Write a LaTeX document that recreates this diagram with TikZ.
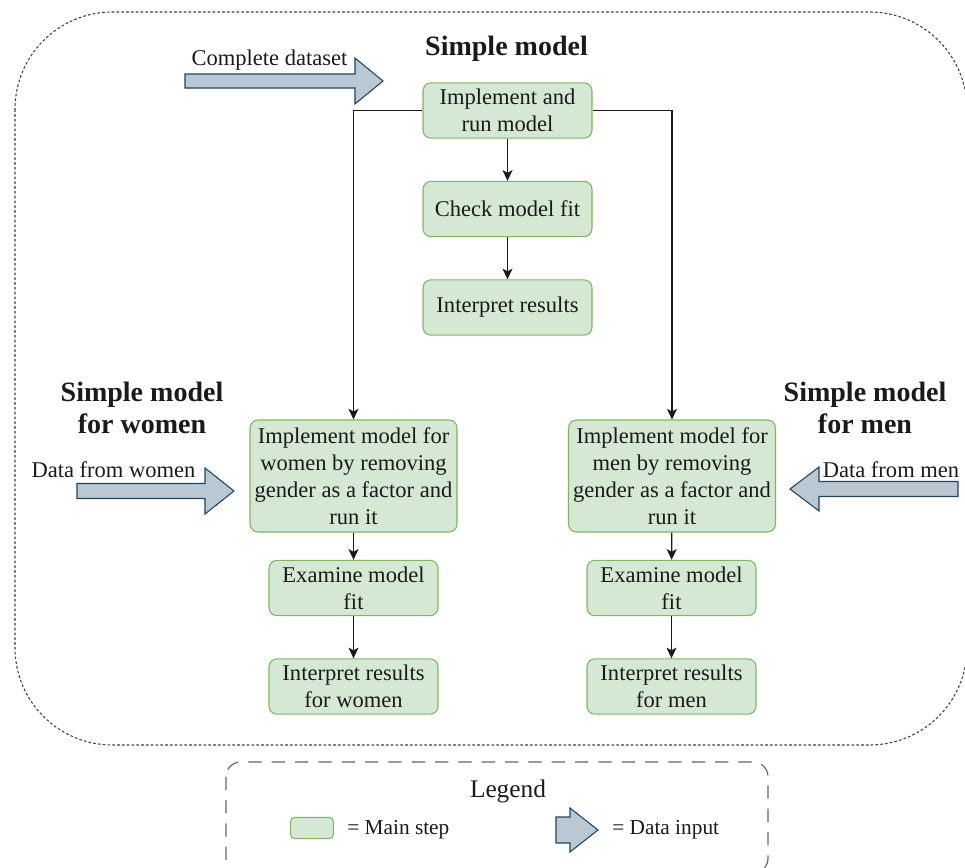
\documentclass[tikz,border=0pt]{standalone}
\usepackage{fontspec}
\setmainfont{Liberation Serif}
\usetikzlibrary{arrows.meta}
\definecolor{stepfill}{HTML}{D5E8D4}
\definecolor{stepline}{HTML}{82B366}
\definecolor{datafill}{HTML}{BAC8D3}
\definecolor{dataline}{HTML}{23445D}
\definecolor{inktext}{HTML}{1A1A1A}

% block arrow: tail x, head base x, tip x, centre y, shaft half width, head half width
\newcommand\blockarrow[6]{%
  \draw[dataarrow] (#1,#4-#5) -- (#2,#4-#5) -- (#2,#4-#6) -- (#3,#4)
    -- (#2,#4+#6) -- (#2,#4+#5) -- (#1,#4+#5) -- cycle;}

\begin{document}
\begin{tikzpicture}[x=0.75pt,y=-0.75pt,
  stepbox/.style={draw=stepline, fill=stepfill, line width=0.8pt,
    rounded corners=6pt, align=center, inner sep=1pt, text=inktext,
    font=\fontsize{16.9}{20.2}\selectfont},
  smallstep/.style={stepbox, minimum width=126.75pt, minimum height=41.5pt},
  bigstep/.style={stepbox, minimum width=155.25pt, minimum height=84pt},
  conn/.style={-{Stealth[length=8pt,width=7.5pt,inset=2pt]}, line width=0.9pt, draw=inktext},
  dataarrow/.style={draw=dataline, fill=datafill, line width=0.8pt, line join=miter},
  headtxt/.style={font=\bfseries\fontsize{21}{24}\selectfont, align=center, text=inktext},
  plaintxt/.style={font=\fontsize{16.9}{20.2}\selectfont, text=inktext, inner sep=0pt},
  legtxt/.style={font=\fontsize{16}{19}\selectfont, text=inktext, inner sep=0pt},
  ]
\useasboundingbox (0,0) rectangle (965,868);

% outer container
\draw[dash pattern=on 2pt off 1.6pt, draw=black!75, line width=0.8pt,
  rounded corners=73pt] (15,12) rectangle (967,745);

% headings
\node[headtxt] (hsimple) at (506.5,49) {Simple model};
\node[headtxt] (hwomen) at (142,408) {Simple model\\for women};
\node[headtxt] (hmen) at (865,408) {Simple model\\for men};

% simple model column
\node[smallstep] (b1) at (507.5,110.5) {Implement and\\run model};
\node[smallstep] (b2) at (507.5,209) {Check model fit};
\node[smallstep] (b3) at (507.5,307.5) {Interpret results};

% women column
\node[bigstep] (w1) at (353.5,476) {Implement model for\\women by removing\\gender as a factor and\\run it};
\node[smallstep] (w2) at (353.5,588) {Examine model\\fit};
\node[smallstep] (w3) at (353.5,686.5) {Interpret results\\for women};

% men column
\node[bigstep] (m1) at (672,476) {Implement model for\\men by removing\\gender as a factor and\\run it};
\node[smallstep] (m2) at (671.5,588) {Examine model\\fit};
\node[smallstep] (m3) at (671.5,686.5) {Interpret results\\for men};

% connectors
\draw[conn] (b1) -- (b2);
\draw[conn] (b2) -- (b3);
\draw[conn] (b1.west) -| (w1.north);
\draw[conn] (b1.east) -| (m1.north);
\draw[conn] (w1) -- (w2);
\draw[conn] (w2) -- (w3);
\draw[conn] (m1) -- (m2);
\draw[conn] (m2) -- (m3);

% data inputs
\blockarrow{185}{355}{383}{81}{7}{23}
\node[plaintxt, anchor=base] (tcomplete) at (269.5,65) {Complete dataset};
\blockarrow{77}{205}{234}{491}{7.5}{23}
\node[plaintxt, anchor=base] (twomen) at (113.5,477) {Data from women};
\blockarrow{958}{819}{790}{489}{7.5}{22}
\node[plaintxt, anchor=base] (tmen) at (891,477) {Data from men};

% legend
\draw[dash pattern=on 10pt off 7.5pt, draw=black!60, line width=0.9pt,
  rounded corners=11pt] (226,762) rectangle (768,873);
\node[font=\fontsize{19}{22}\selectfont, text=inktext] (legtitle) at (508,791) {Legend};
\node[stepbox, minimum width=32pt, minimum height=16pt, rounded corners=3pt] (swatch) at (312,828) {};
\node[legtxt, anchor=west] (tmain) at (347,830) {= Main step};
\blockarrow{556}{570}{598}{830}{13}{22}
\node[legtxt, anchor=west] (tdata) at (612,830) {= Data input};
\end{tikzpicture}
\end{document}
